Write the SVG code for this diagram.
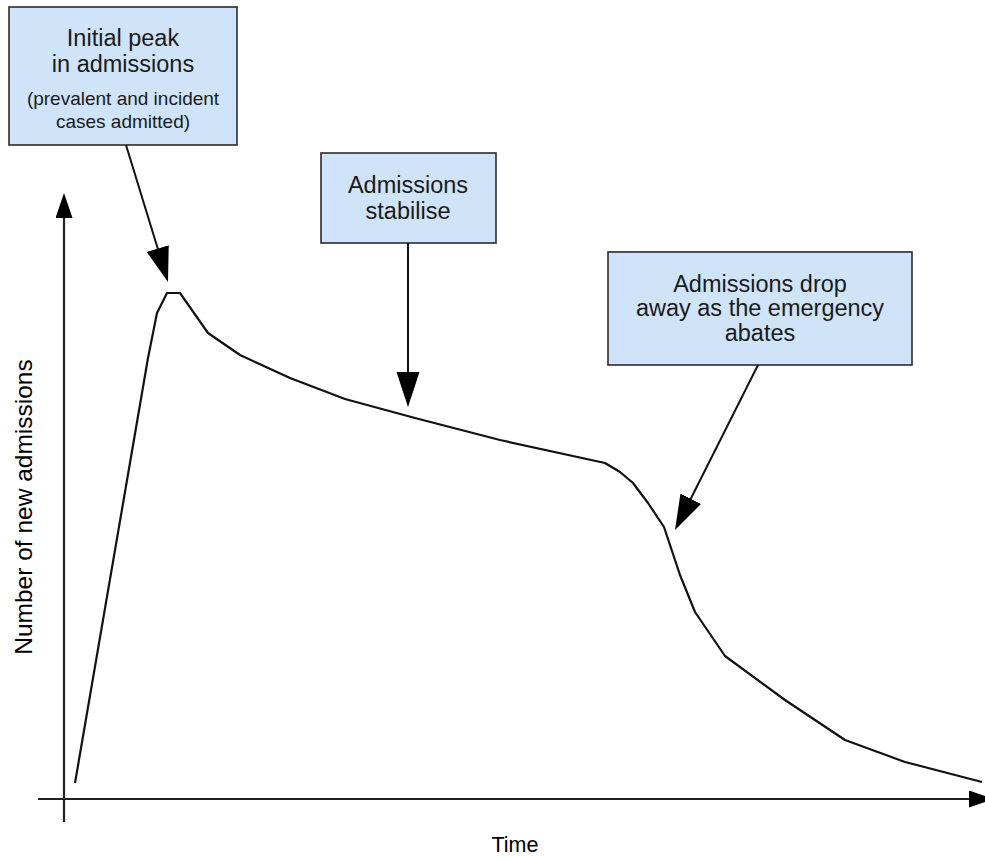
<svg xmlns="http://www.w3.org/2000/svg" width="985" height="861" viewBox="0 0 985 861">
  <style>
    .box { fill: #cfe4f8; stroke: #2b2b2b; stroke-width: 1.6; }
    .lbl { font-family: "Liberation Sans", Arial, sans-serif; fill: #1a1a1a; text-anchor: middle; }
    .big { font-size: 23.5px; }
    .small { font-size: 19px; }
    .axis-lbl { font-family: "Liberation Sans", Arial, sans-serif; font-size: 21.5px; fill: #000; text-anchor: middle; }
    .conn { fill: none; stroke: #111; stroke-width: 2; }
    .axis { fill: none; stroke: #222; stroke-width: 2.2; }
    .curve { fill: none; stroke: #111; stroke-width: 2.2; stroke-linejoin: round; }
  </style>
  <defs>
    <marker id="head" markerUnits="userSpaceOnUse" markerWidth="36" markerHeight="24" refX="5" refY="11.5" orient="auto">
      <path d="M0,0 L35,11.5 L0,23 z" fill="#000"/>
    </marker>
    <marker id="axisHead" markerUnits="userSpaceOnUse" markerWidth="26" markerHeight="18" refX="4" refY="8.5" orient="auto">
      <path d="M0,0 L25,8.5 L0,17 z" fill="#000"/>
    </marker>
  </defs>

  <rect width="985" height="861" fill="#ffffff"/>

  <!-- axes -->
  <g id="axes">
    <line class="axis" x1="64" y1="822" x2="64" y2="214" marker-end="url(#axisHead)"/>
    <line class="axis" x1="38" y1="799" x2="973" y2="799" marker-end="url(#axisHead)"/>
    <text class="axis-lbl" x="515" y="852">Time</text>
    <text class="axis-lbl" style="font-size:24.5px" transform="translate(32,507) rotate(-90)">Number of new admissions</text>
  </g>

  <!-- admissions curve -->
  <g id="curve">
    <polyline class="curve" points="75,783 148,358 157,313 167,293 180,293 208,333 240,355 290,378 345,399 415,418 500,440 605,463 620,472 633,483 648,503 664,527 680,575 695,612 725,656 785,700 845,740 905,762 982,782"/>
  </g>

  <!-- annotation boxes -->
  <g id="peak">
    <rect class="box" x="9" y="7" width="228" height="138"/>
    <text class="lbl big" x="123" y="46">Initial peak</text>
    <text class="lbl big" x="123" y="72">in admissions</text>
    <text class="lbl small" x="123" y="105">(prevalent and incident</text>
    <text class="lbl small" x="123" y="128">cases admitted)</text>
  </g>

  <g id="stabilise">
    <rect class="box" x="321" y="153" width="175" height="90"/>
    <text class="lbl big" x="408" y="193">Admissions</text>
    <text class="lbl big" x="408" y="219">stabilise</text>
  </g>

  <g id="dropaway">
    <rect class="box" x="608" y="252" width="304" height="113"/>
    <text class="lbl big" x="760" y="292">Admissions drop</text>
    <text class="lbl big" x="760" y="316">away as the emergency</text>
    <text class="lbl big" x="760" y="341">abates</text>
  </g>

  <!-- connectors -->
  <g id="connectors">
    <line class="conn" x1="126" y1="145" x2="159.2" y2="253.3" marker-end="url(#head)"/>
    <line class="conn" x1="408" y1="243" x2="408" y2="377" marker-end="url(#head)"/>
    <line class="conn" x1="758" y1="365" x2="688.5" y2="503.2" marker-end="url(#head)"/>
  </g>
</svg>
